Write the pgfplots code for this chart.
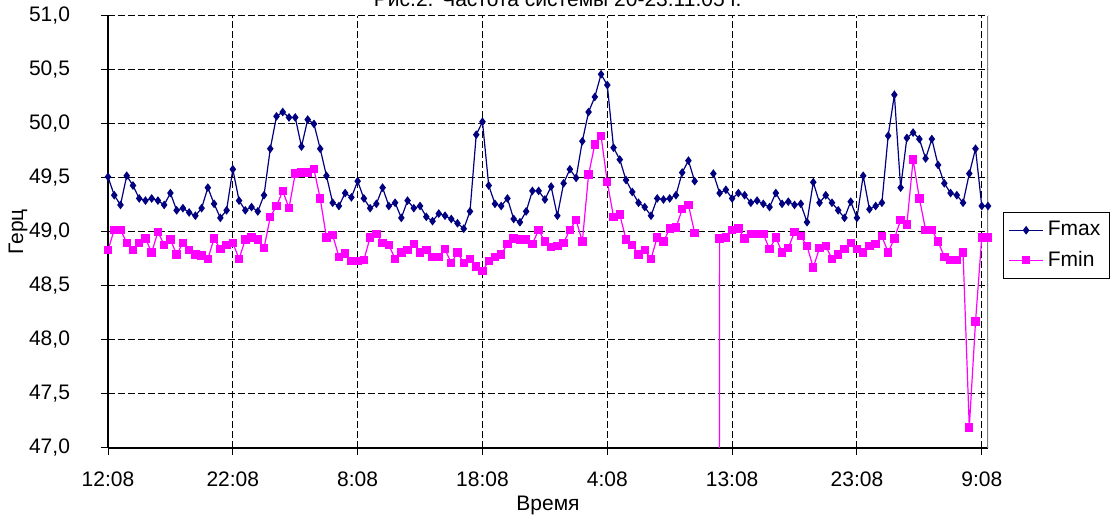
\documentclass[border=0pt]{standalone}
\usepackage{fontspec}
\setmainfont{Liberation Sans}
\usepackage{pgfplots}
\pgfplotsset{compat=1.18}
\usepackage{pgfplotstable}
\definecolor{fmaxc}{RGB}{0,0,128}
\definecolor{fminc}{RGB}{255,0,255}

\pgfplotstableread{
i fmax fmin
0 49.51 48.83
1 49.34 49.02
2 49.25 49.02
3 49.52 48.90
4 49.43 48.83
5 49.31 48.90
6 49.29 48.94
7 49.31 48.81
8 49.29 49.00
9 49.25 48.88
10 49.36 48.93
11 49.20 48.79
12 49.22 48.90
13 49.18 48.83
14 49.15 48.79
15 49.22 48.78
16 49.41 48.75
17 49.26 48.94
18 49.13 48.84
19 49.20 48.88
20 49.58 48.90
21 49.29 48.75
22 49.20 48.93
23 49.23 48.95
24 49.19 48.93
25 49.34 48.85
26 49.77 49.14
27 50.07 49.24
28 50.11 49.38
29 50.06 49.22
30 50.06 49.54
31 49.79 49.55
32 50.04 49.55
33 50.00 49.58
34 49.77 49.31
35 49.52 48.95
36 49.27 48.97
37 49.24 48.77
38 49.36 48.80
39 49.32 48.73
40 49.47 48.73
41 49.31 48.74
42 49.22 48.95
43 49.26 48.98
44 49.41 48.90
45 49.24 48.88
46 49.27 48.75
47 49.13 48.81
48 49.29 48.83
49 49.22 48.89
50 49.24 48.81
51 49.14 48.83
52 49.10 48.77
53 49.17 48.77
54 49.15 48.84
55 49.12 48.71
56 49.08 48.81
57 49.03 48.71
58 49.19 48.75
59 49.90 48.68
60 50.02 48.64
61 49.43 48.73
62 49.26 48.77
63 49.24 48.79
64 49.31 48.89
65 49.12 48.94
66 49.09 48.93
67 49.19 48.93
68 49.38 48.89
69 49.38 49.02
70 49.30 48.91
71 49.42 48.86
72 49.15 48.87
73 49.45 48.90
74 49.58 49.02
75 49.50 49.11
76 49.84 48.91
77 50.11 49.53
78 50.25 49.81
79 50.46 49.89
80 50.36 49.46
81 49.78 49.14
82 49.67 49.16
83 49.48 48.93
84 49.37 48.88
85 49.27 48.79
86 49.23 48.83
87 49.15 48.75
88 49.31 48.95
89 49.30 48.91
90 49.31 49.03
91 49.34 49.04
92 49.55 49.21
93 49.66 49.25
94 49.47 48.99
95 nan nan
96 nan nan
97 49.54 0
98 49.36 48.94
99 49.39 48.95
100 49.31 49.02
101 49.36 49.03
102 49.34 48.94
103 49.27 48.98
104 49.29 48.98
105 49.26 48.98
106 49.23 48.84
107 49.36 48.95
108 49.26 48.81
109 49.28 48.85
110 49.25 49.00
111 49.26 48.96
112 49.09 48.87
113 49.46 48.67
114 49.27 48.85
115 49.34 48.87
116 49.27 48.75
117 49.20 48.79
118 49.13 48.84
119 49.28 48.90
120 49.13 48.84
121 49.52 48.81
122 49.21 48.87
123 49.24 48.89
124 49.27 48.96
125 49.89 48.81
126 50.27 48.94
127 49.41 49.11
128 49.87 49.07
129 49.92 49.67
130 49.86 49.31
131 49.68 49.02
132 49.86 49.02
133 49.62 48.91
134 49.45 48.77
135 49.36 48.74
136 49.34 48.74
137 49.27 48.81
138 49.54 47.19
139 49.77 48.17
140 49.24 48.95
141 49.24 48.95
}\freqdata

\begin{document}
\begin{tikzpicture}[font=\fontsize{10.5}{12.5}\selectfont]
\begin{axis}[
  scale only axis,
  width=440pt, height=216pt,
  xmin=0, xmax=141, ymin=47, ymax=51,
  axis x line*=bottom, axis y line*=left,
  xtick={0,20,40,60,80,100,120,140},
  xticklabels={12:08,22:08,8:08,18:08,4:08,13:08,23:08,9:08},
  ytick={47,47.5,48,48.5,49,49.5,50,50.5,51},
  y tick label style={/pgf/number format/fixed, /pgf/number format/fixed zerofill,
    /pgf/number format/precision=1, /pgf/number format/use comma,
    /pgf/number format/assume math mode=true},
  yticklabel style={anchor=east, xshift=-12pt},
  xticklabel style={yshift=-5pt},
  tick align=outside,
  major tick length=3.5pt,
  tick style={black, line width=0.5pt},
  grid=major,
  major grid style={black, line width=0.5pt, dash pattern=on 3.3pt off 1.7pt},
  axis line style={black, line width=0.6pt},
  xlabel={Время},
  xlabel style={at={(axis description cs:0.5,-0.132)}, anchor=center},
  ylabel={Герц},
  ylabel style={at={(axis description cs:-0.1023,0.5)}, anchor=center},
  every axis title shift=0pt,
  title={Рис.2.  Частота системы 20-23.11.05 г.},
  title style={at={(axis description cs:0.511,1)}, anchor=base, yshift=4.5pt},
  unbounded coords=jump,
  legend style={at={(1.017,0.546)}, anchor=north west, draw=black, line width=0.5pt,
    row sep=2pt, inner sep=2.5pt, font=\fontsize{10.5}{12.5}\selectfont},
  legend cell align=left,
]
\addplot[color=fmaxc, line width=0.6pt, mark=diamond*, mark size=1.7pt,
  mark options={fill=fmaxc}] table[x=i, y=fmax] {\freqdata};
\addlegendentry{Fmax}
\addplot[color=fminc, line width=0.6pt, mark=square*, mark size=1.8pt,
  mark options={fill=fminc}] table[x=i, y=fmin] {\freqdata};
\addlegendentry{Fmin}
\draw[gray, line width=0.6pt] (rel axis cs:1,0) -- (rel axis cs:1,1);
\end{axis}
\pgfresetboundingbox
\useasboundingbox (-54pt,-34.5pt) rectangle (504.5pt,224pt);
\end{tikzpicture}
\end{document}
